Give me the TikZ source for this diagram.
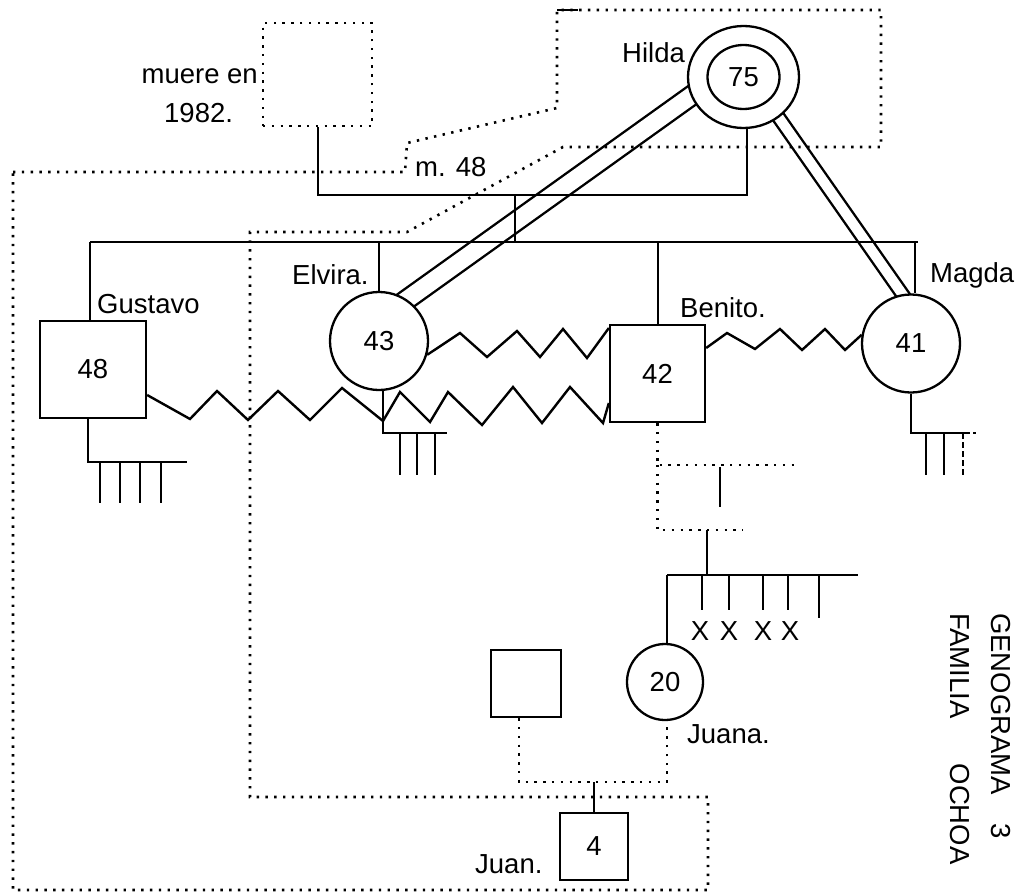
\documentclass[tikz,border=0pt]{standalone}
\usepackage{fontspec}
\setmainfont{Liberation Sans}
\usetikzlibrary{shapes.geometric,calc,backgrounds}
\begin{document}
\begin{tikzpicture}[x=1pt,y=-1pt,
  lab/.style={font=\fontsize{27.5}{32}\selectfont, inner sep=0pt},
  sym/.style={draw, fill=white, line width=2.3pt, font=\fontsize{27.5}{32}\selectfont, inner sep=0pt},
  male/.style={sym, rectangle},
  female/.style={sym, circle},
  ln/.style={line width=2pt},
  dotl/.style={line width=2.6pt, dash pattern=on 2.4pt off 6.4pt},
  zz/.style={line width=2.4pt, line join=miter},
  dbl/.style={double, line width=2.4pt},
]
\useasboundingbox (0,0) rectangle (1031,894);

% household boundary
\draw[dotl] (13,172) -- (405,172) -- (407,143) -- (557,108) -- (557,10) -- (881,10) -- (881,147) -- (563,147) -- (407,232) -- (250,232) -- (250,797) -- (708,797) -- (708,890) -- (13,890) -- cycle;
\draw[line width=2.6pt] (557,10) -- (578,10);

% persons
\node[male, dotl, minimum width=109pt, minimum height=103pt] (dead) at (317.5,74.5) {};
\node[sym, ellipse, minimum width=111pt, minimum height=102pt] (hilda) at (743.5,77) {};
\node[sym, ellipse, minimum width=72pt, minimum height=64pt] (hildain) at (743.5,77) {75};
\node[male, minimum width=106pt, minimum height=97pt] (gus) at (93,369.5) {48};
\node[female, minimum size=98pt] (elv) at (379,341) {43};
\node[male, minimum width=95pt, minimum height=97pt] (ben) at (657.5,373.5) {42};
\node[female, minimum size=98pt] (mag) at (911,343.5) {41};
\node[female, minimum size=76pt] (jua) at (665,682) {20};
\node[male, minimum width=70pt, minimum height=67pt] (par) at (526,683.5) {};
\node[male, minimum width=68pt, minimum height=67pt] (juan) at (594,846.5) {4};

% labels
\node[lab, anchor=base east] (lmuere) at (258,83) {muere en};
\node[lab, anchor=base west] (l1982) at (164,122) {1982.};
\node[lab, anchor=base west] (lhilda) at (622,62) {Hilda};
\node[lab, anchor=base west] (lm48) at (415,176) {m. 48};
\node[lab, anchor=base west] (lgus) at (97,313) {Gustavo};
\node[lab, anchor=base west] (lelv) at (292,284) {Elvira.};
\node[lab, anchor=base west] (lben) at (680,317) {Benito.};
\node[lab, anchor=base west] (lmag) at (930,282) {Magda};
\node[lab, anchor=base west] (ljua) at (687,743) {Juana.};
\node[lab, anchor=base west] (ljuan) at (475,873) {Juan.};
\node[lab, anchor=base] (x1) at (700,640) {X};
\node[lab, anchor=base] (x2) at (729,640) {X};
\node[lab, anchor=base] (x3) at (763,640) {X};
\node[lab, anchor=base] (x4) at (790,640) {X};
\node[lab, rotate=-90, anchor=west] (t1) at (1001,613) {GENOGRAMA\hspace{28pt}3};
\node[lab, rotate=-90, anchor=west] (t2) at (960,613) {FAMILIA\hspace{45pt}OCHOA};

% close relations (double lines)
\begin{scope}[on background layer]
\draw[dbl, double distance=17pt, shorten <=-8pt, shorten >=-8pt] (hilda.200) -- (elv.56);
\draw[dbl, double distance=10pt, shorten <=-8pt, shorten >=-8pt] (hilda.311) -- (mag.100);
\end{scope}

% marriage and siblings
\coordinate (mL) at (dead.south |- 0,195);
\coordinate (mR) at (hilda.-86 |- 0,195);
\draw[ln] (dead.south) -- (mL) -- (mR) -- (hilda.-86);
\coordinate (desc) at (515,195);
\coordinate (sib) at (515,242);
\draw[ln] (desc) -- (sib);
\coordinate (sibL) at (90,242);
\coordinate (sibR) at (918,242);
\draw[ln] (sibL) -- (sibR);
\draw[ln] (sibL) -- (sibL |- gus.north);
\draw[ln] (elv.north |- sibL) -- (elv.north);
\draw[ln] (ben.north |- sibL) -- (ben.north);
\coordinate (magd) at (915,242);
\draw[ln] (magd) -- (magd |- mag.north);

% conflict lines
\draw[zz] ([yshift=-25.5pt]gus.east) -- (190,419) -- (217,391) -- (248,420) -- (278,391) -- (310,420) -- (342,388) -- (383,421) -- (400,392) -- (430,422) -- (448,392) -- (482,425) -- (513,387) -- (542,423) -- (570,387) -- (603,423) -- ([yshift=-29.5pt]ben.west);
\draw[zz] (elv.-16) -- (460,333) -- (487,357) -- (517,331) -- (540,357) -- (563,329) -- (587,358) -- ([yshift=45.5pt]ben.west);
\draw[zz] ([yshift=25.5pt]ben.east) -- (727,333) -- (755,349) -- (780,329) -- (802,350) -- (825,329) -- (845,350) -- (mag.170);

% children of Gustavo
\coordinate (gk) at (88,462);
\draw[ln] ([xshift=-5pt]gus.south) -- (gk) -- (187,462);
\foreach \x in {100,120,140,161} \draw[ln] (\x,462) -- (\x,503);
% children of Elvira
\coordinate (ek) at (383,433);
\draw[ln] ([xshift=4pt]elv.south) -- (ek) -- (447,433);
\foreach \x in {400,417,435} \draw[ln] (\x,433) -- (\x,475);
% children of Magda
\coordinate (mk) at (911,433);
\draw[ln] (mag.south) -- (mk) -- (967,433);
\draw[ln, dashed] (967,433) -- (976,433);
\foreach \x in {926,944} \draw[ln] (\x,433) -- (\x,475);
\draw[ln, dash pattern=on 6pt off 3pt] (963,433) -- (963,475);

% Benito's partner and children
\coordinate (bp) at (657.5,465);
\draw[dotl] (ben.south) -- (bp) -- (798,465);
\draw[dotl] (bp) -- (657.5,530) -- (743,530);
\draw[ln] (720,467) -- (720,507);
\coordinate (bd) at (707,530);
\coordinate (s2M) at (707,575);
\draw[ln] (bd) -- (s2M);
\coordinate (s2L) at (667,575);
\coordinate (s2R) at (858,575);
\draw[ln] (s2L) -- (s2R);
\draw[ln] (s2L) -- (s2L |- jua.north);
\foreach \x in {702,729,763,788} \draw[ln] (\x,575) -- (\x,610);
\draw[ln] (819,575) -- (819,618);

% Juana, partner, Juan
\coordinate (pj) at (519,782);
\coordinate (jj) at (667,782);
\draw[dotl] ([xshift=-7pt]par.south) -- (pj) -- (jj) -- ([xshift=2pt]jua.south);
\draw[ln] (juan.north |- pj) -- (juan.north);
\end{tikzpicture}
\end{document}
